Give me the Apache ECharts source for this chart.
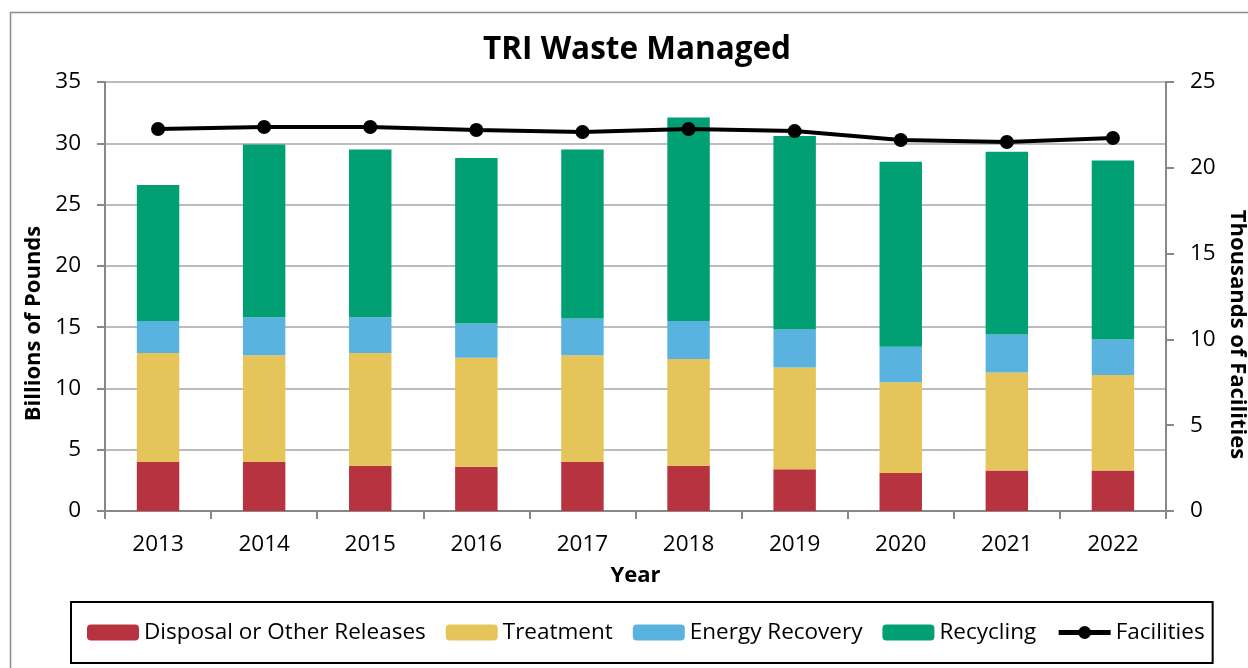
<!DOCTYPE html>
<html lang="en">
<head>
    <meta charset="utf-8">
    <title>TRI Waste Managed</title>
    <style>
        html, body { margin: 0; padding: 0; background: #fff; }
        #main { width: 1248px; height: 668px; }
    </style>
</head>
<body>
<div id="main"></div>
<script src="https://cdn.jsdelivr.net/npm/echarts@6.0.0/dist/echarts.min.js"></script>
<script type="text/javascript">

var years = ['2013', '2014', '2015', '2016', '2017', '2018', '2019', '2020', '2021', '2022'];
// billions of pounds
var disposal = [4.0, 4.0, 3.7, 3.6, 4.0, 3.7, 3.4, 3.1, 3.3, 3.3];
var treatment = [8.9, 8.7, 9.2, 8.9, 8.7, 8.7, 8.3, 7.4, 8.0, 7.8];
var energy = [2.6, 3.1, 2.9, 2.8, 3.0, 3.1, 3.1, 2.9, 3.1, 2.9];
var recycling = [11.1, 14.1, 13.7, 13.5, 13.8, 16.6, 15.8, 15.1, 14.9, 14.6];
// thousands of facilities
var facilities = [22.26, 22.38, 22.38, 22.2, 22.09, 22.26, 22.14, 21.62, 21.5, 21.74];

var font = 'Open Sans';
var gridGray = '#A6A6A6';

var chart = echarts.init(document.getElementById('main'));

function barSeries(name, data, color) {
    return {
        name: name,
        type: 'bar',
        stack: 'waste',
        barWidth: '40%',
        data: data,
        itemStyle: { color: color },
        emphasis: { disabled: true }
    };
}

var option = {
    animation: false,
    textStyle: { fontFamily: font },
    title: {
        text: 'TRI Waste Managed',
        left: 478,
        top: 29,
        textStyle: { fontFamily: font, fontSize: 31.5, fontWeight: 'bold', color: '#000' }
    },
    graphic: [{
        type: 'rect',
        shape: { x: 10.5, y: 12.5, width: 1250, height: 680 },
        style: { fill: 'none', stroke: '#8c8c8c', lineWidth: 1.5 },
        z: -1
    }],
    legend: {
        left: 71,
        top: 602,
        width: 1146,
        padding: [19, 8, 19, 16],
        borderColor: '#000',
        borderWidth: 2,
        itemWidth: 52,
        itemHeight: 16,
        itemGap: 20,
        textStyle: { fontFamily: font, fontSize: 22.5, color: '#000' },
        data: [
            { name: 'Disposal or Other Releases' },
            { name: 'Treatment' },
            { name: 'Energy Recovery' },
            { name: 'Recycling' },
            { name: 'Facilities', lineStyle: { width: 5, color: '#000' }, itemStyle: { color: '#000' } }
        ]
    },
    grid: { left: 105, right: 82, top: 82, bottom: 157, outerBoundsMode: 'none' },
    xAxis: {
        type: 'category',
        data: years,
        name: 'Year',
        nameLocation: 'middle',
        nameGap: 54,
        nameTextStyle: { fontFamily: font, fontSize: 22, fontWeight: 'bold', color: '#000' },
        axisLine: { lineStyle: { color: '#888', width: 2 } },
        axisTick: { show: true, interval: 0, length: 8, lineStyle: { color: '#888', width: 2 } },
        axisLabel: { fontFamily: font, fontSize: 22.5, color: '#000', margin: 22 }
    },
    yAxis: [{
        type: 'value',
        min: 0,
        max: 35,
        interval: 5,
        name: 'Billions of Pounds',
        nameLocation: 'middle',
        nameGap: 42,
        nameTextStyle: { fontFamily: font, fontSize: 22, fontWeight: 'bold', color: '#000', padding: [0, 54, 0, 0] },
        axisLine: { show: true, lineStyle: { color: '#888', width: 2 } },
        axisTick: { show: true, length: 8, lineStyle: { color: '#888', width: 2 } },
        axisLabel: { fontFamily: font, fontSize: 22.5, color: '#000', margin: 24 },
        splitLine: { lineStyle: { color: gridGray, width: 1.5 } }
    }, {
        type: 'value',
        min: 0,
        max: 25,
        interval: 5,
        position: 'right',
        name: 'Thousands of Facilities',
        nameLocation: 'middle',
        nameRotate: -90,
        nameGap: 60,
        nameTextStyle: { fontFamily: font, fontSize: 22, fontWeight: 'bold', color: '#000', padding: [0, 0, 0, 76] },
        axisLine: { show: true, lineStyle: { color: '#888', width: 2 } },
        axisTick: { show: true, length: 8, lineStyle: { color: '#888', width: 2 } },
        axisLabel: { fontFamily: font, fontSize: 22.5, color: '#000', margin: 24 },
        splitLine: { show: false }
    }],
    series: [
        barSeries('Disposal or Other Releases', disposal, '#B83340'),
        barSeries('Treatment', treatment, '#E5C55A'),
        barSeries('Energy Recovery', energy, '#5AB3DF'),
        barSeries('Recycling', recycling, '#009F74'),
        {
            name: 'Facilities',
            type: 'line',
            yAxisIndex: 1,
            data: facilities,
            symbol: 'circle',
            symbolSize: 14,
            lineStyle: { color: '#000', width: 4 },
            itemStyle: { color: '#000' },
            emphasis: { disabled: true },
            z: 5
        }
    ]
};

chart.setOption(option);

</script>
</body>
</html>
